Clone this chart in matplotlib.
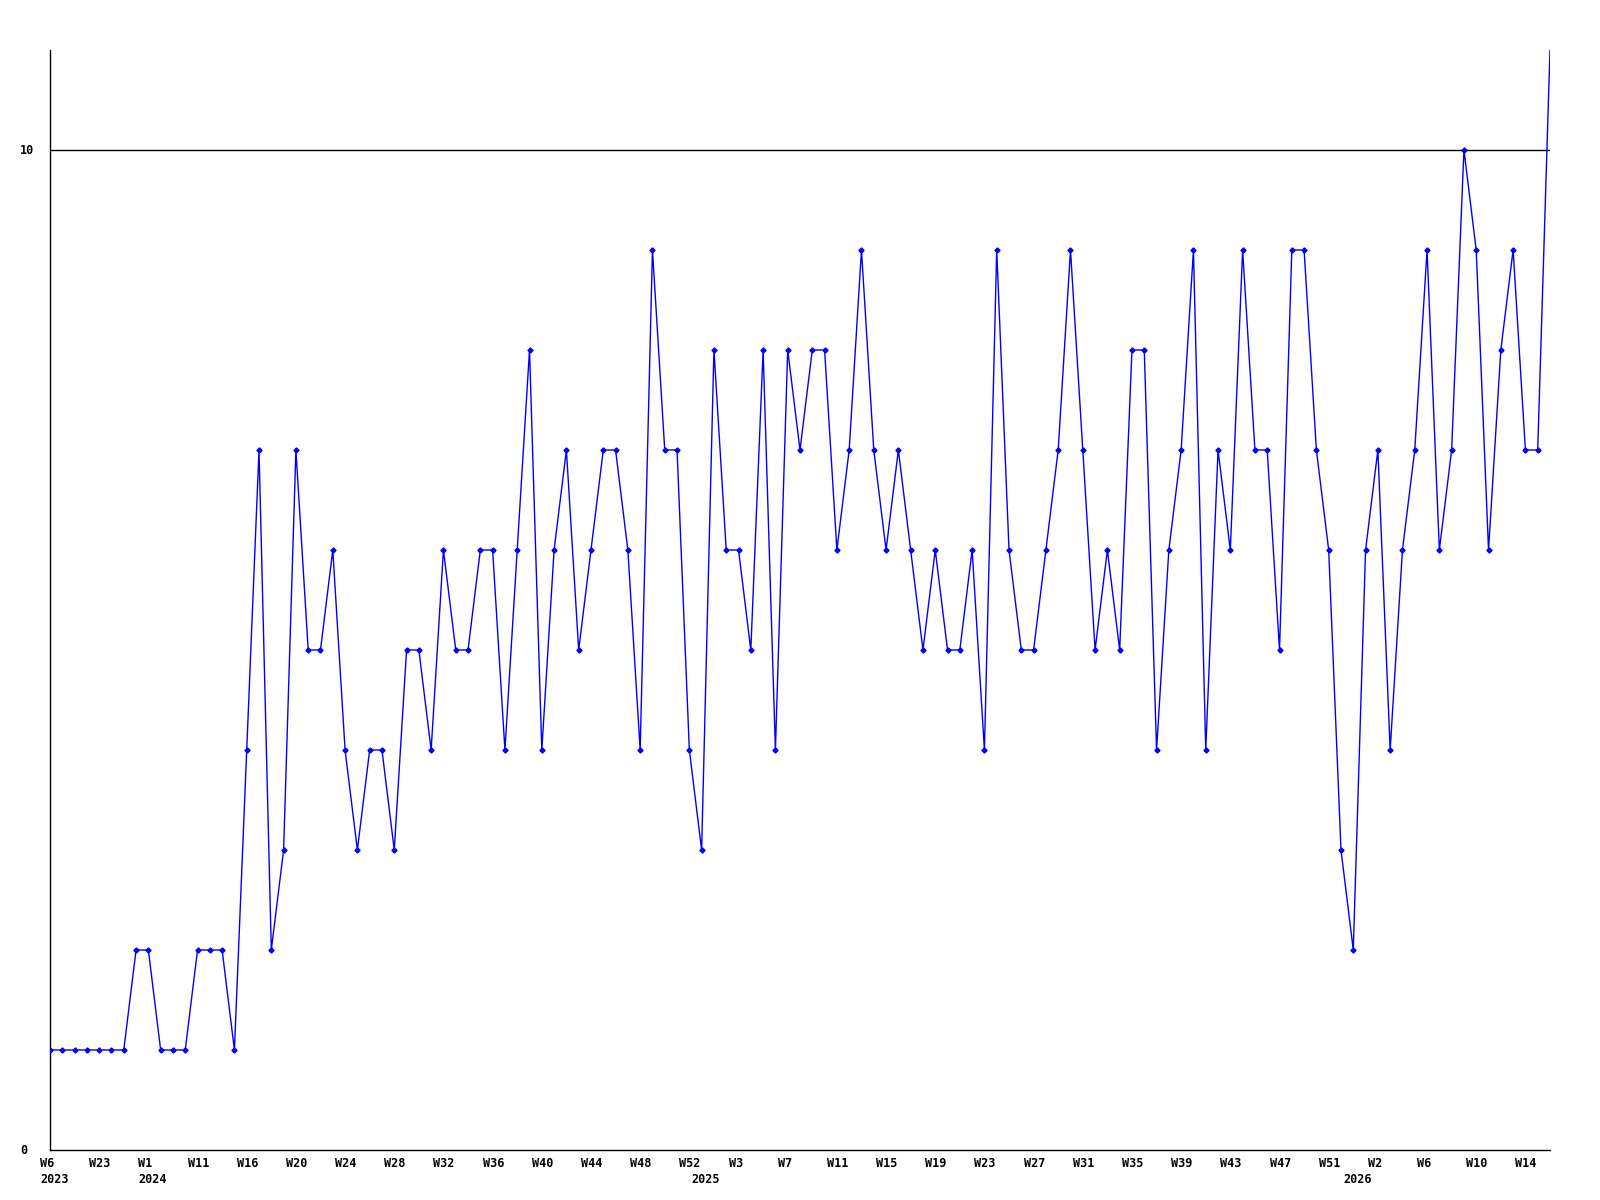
import matplotlib
matplotlib.use("Agg")
import matplotlib.pyplot as plt
import matplotlib.transforms as mtransforms

# weekly counts, one point per week with data
VALUES = [
    1, 1, 1, 1, 1, 1, 1, 2, 2, 1, 1, 1, 2, 2, 2, 1,
    4, 7, 2, 3, 7, 5, 5, 6, 4, 3, 4, 4, 3, 5, 5, 4, 6, 5, 5, 6, 6, 4, 6, 8, 4,
    6, 7, 5, 6, 7, 7, 6, 4, 9, 7, 7, 4, 3, 8, 6, 6, 5, 8, 4, 8, 7, 8, 8, 6, 7, 9,
    7, 6, 7, 6, 5, 6, 5, 5, 6, 4, 9, 6, 5, 5, 6, 7, 9, 7, 5, 6, 5, 8, 8, 4, 6,
    7, 9, 4, 7, 6, 9, 7, 7, 5, 9, 9, 7, 6, 3, 2, 6, 7, 4, 6, 7, 9, 6, 7, 10, 9,
    6, 8, 9, 7, 7, 11,
]

WEEK_LABELS = [
    "W6", "W23", "W1", "W11", "W16", "W20", "W24", "W28", "W32", "W36", "W40",
    "W44", "W48", "W52", "W3", "W7", "W11", "W15", "W19", "W23", "W27", "W31",
    "W35", "W39", "W43", "W47", "W51", "W2", "W6", "W10", "W14",
]
WEEK_STEP = 4  # a week label every 4th point

YEAR_LABELS = ["2023", "2024", "2025", "2026"]
YEAR_IDX = [0, 8, 53, 106]

Y_TICKS = [0, 10]

FONT = dict(family="DejaVu Sans Mono", fontsize=8.5, fontweight="bold", color="black")

fig = plt.figure(figsize=(16, 12), dpi=100)
ax = fig.add_axes([50 / 1600, 50 / 1200, 1500 / 1600, 1100 / 1200])

x = list(range(len(VALUES)))
ax.plot(x, VALUES, color="#0000ff", linewidth=1.0, marker="D", markersize=2.6,
        markevery=list(range(len(VALUES) - 1)), zorder=3)
ax.axhline(10, color="black", linewidth=1.0, zorder=2)

ax.set_xlim(0, len(VALUES) - 1)
ax.set_ylim(0, 11)

for s in ("top", "right"):
    ax.spines[s].set_visible(False)
for s in ("left", "bottom"):
    ax.spines[s].set_linewidth(1.0)

ax.set_xticks([])
ax.set_yticks([])

# y labels, left-aligned near the figure edge
trans_y = mtransforms.blended_transform_factory(fig.transFigure, ax.transData)
for v in Y_TICKS:
    ax.text(20 / 1600, v, str(v), transform=trans_y, ha="left", va="center", **FONT)

# week labels and year labels under the axis
for k, lab in enumerate(WEEK_LABELS):
    ax.annotate(lab, xy=(k * WEEK_STEP, 0), xycoords=("data", "axes fraction"),
                xytext=(-10, -7), textcoords="offset pixels",
                ha="left", va="top", annotation_clip=False, **FONT)
for idx, lab in zip(YEAR_IDX, YEAR_LABELS):
    ax.annotate(lab, xy=(idx, 0), xycoords=("data", "axes fraction"),
                xytext=(-10, -23), textcoords="offset pixels",
                ha="left", va="top", annotation_clip=False, **FONT)

fig.savefig("out.png", dpi=100)
